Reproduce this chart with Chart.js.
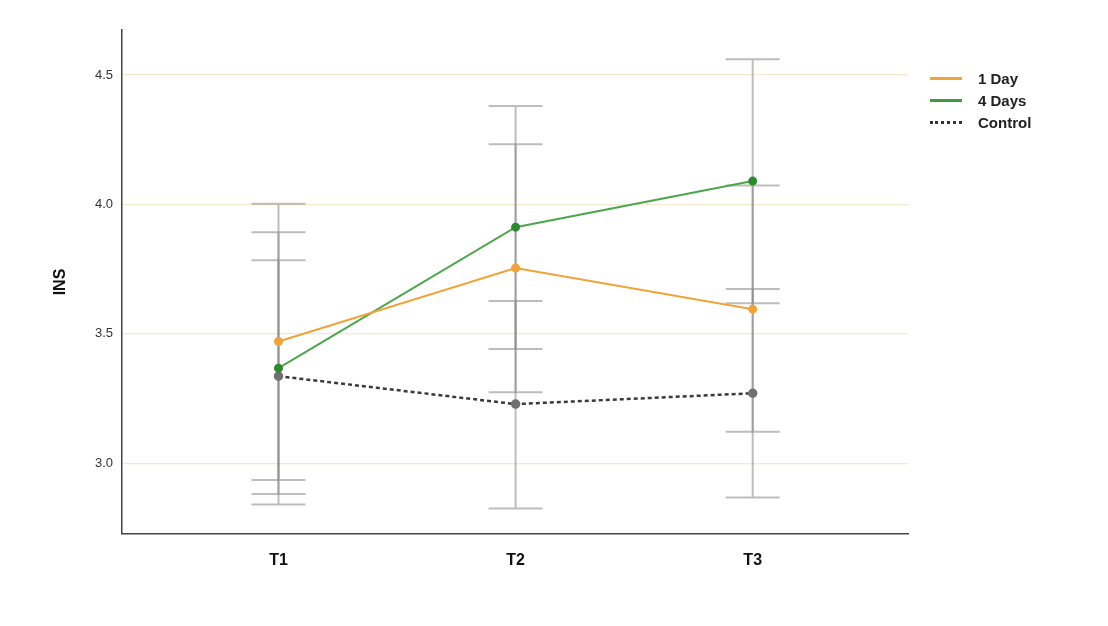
<!DOCTYPE html>
<html>
<head>
<meta charset="utf-8">
<script src="https://cdn.jsdelivr.net/npm/chart.js@4"></script>
<style>
  body { margin: 0; background: #fff; }
  #wrap { position: relative; width: 1108px; height: 626px; }
  #legend { position: absolute; left: 930px; top: 67px; font-family: "Liberation Sans", Arial, sans-serif; font-size: 15px; font-weight: bold; color: #222; }
  #legend div { height: 22px; display: flex; align-items: center; }
  #legend span.sw { display: inline-block; width: 32px; margin-right: 16px; }
</style>
</head>
<body>
<div id="wrap">
  <canvas id="grafico" width="1108" height="626"></canvas>
  <div id="legend">
    <div><span class="sw" style="border-top:3px solid #f0a33a"></span>1 Day</div>
    <div><span class="sw" style="border-top:3px solid #3f9a3f"></span>4 Days</div>
    <div><span class="sw" style="border-top:3px dotted #333"></span>Control</div>
  </div>
</div>
<script>
// Datos
const categorias = ['T1', 'T2', 'T3'];
const ticksY = [3.0, 3.5, 4.0, 4.5];

const unDia = [3.47, 3.754, 3.595];
const unDiaInf = [2.935, 3.274, 3.121];
const unDiaSup = [4.002, 4.232, 4.073];

const cuatroDias = [3.367, 3.912, 4.09];
const cuatroDiasInf = [2.840, 3.441, 3.618];
const cuatroDiasSup = [3.892, 4.380, 4.561];

const control = [3.336, 3.228, 3.27];
const controlInf = [2.881, 2.825, 2.867];
const controlSup = [3.784, 3.627, 3.673];

const aPuntos = arr => arr.map((v, i) => ({ x: i + 1, y: v }));

// Barras de error dibujadas con las escalas del gráfico
const barrasError = {
    id: 'barrasError',
    beforeDatasetsDraw(chart) {
        const ctx = chart.ctx;
        const xs = chart.scales.x, ys = chart.scales.y;
        const grupos = [[unDiaInf, unDiaSup], [cuatroDiasInf, cuatroDiasSup], [controlInf, controlSup]];
        ctx.save();
        ctx.strokeStyle = 'rgba(135, 135, 135, 0.55)';
        ctx.lineWidth = 2;
        grupos.forEach(([inf, sup]) => {
            inf.forEach((lo, i) => {
                const x = xs.getPixelForValue(i + 1);
                const y1 = ys.getPixelForValue(lo);
                const y2 = ys.getPixelForValue(sup[i]);
                ctx.beginPath();
                ctx.moveTo(x, y1); ctx.lineTo(x, y2);
                ctx.moveTo(x - 27, y1); ctx.lineTo(x + 27, y1);
                ctx.moveTo(x - 27, y2); ctx.lineTo(x + 27, y2);
                ctx.stroke();
            });
        });
        ctx.restore();
    }
};

const ctx = document.getElementById('grafico').getContext('2d');
const chart = new Chart(ctx, {
    type: 'line',
    data: {
        datasets: [{
            label: '1 Day',
            data: aPuntos(unDia),
            borderColor: '#f0a33a',
            backgroundColor: '#f0a33a',
            borderWidth: 2,
            pointRadius: 3.5,
            tension: 0
        }, {
            label: '4 Days',
            data: aPuntos(cuatroDias),
            borderColor: '#4ea54e',
            backgroundColor: '#2f8a2f',
            pointBorderColor: '#2f8a2f',
            borderWidth: 2,
            pointRadius: 3.5,
            tension: 0
        }, {
            label: 'Control',
            data: aPuntos(control),
            borderColor: '#3a3a3a',
            backgroundColor: '#707070',
            pointBorderColor: '#707070',
            borderWidth: 2.5,
            borderDash: [4, 3],
            pointRadius: 3.5,
            tension: 0
        }]
    },
    options: {
        responsive: false,
        animation: false,
        layout: { padding: { left: 0, right: 200, top: 30, bottom: 42 } },
        plugins: {
            legend: { display: false },
            tooltip: { enabled: false }
        },
        scales: {
            x: {
                type: 'linear',
                min: 0.34,
                max: 3.655,
                afterBuildTicks: s => { s.ticks = categorias.map((c, i) => ({ value: i + 1 })); },
                afterFit: s => { s.height = 50; },
                ticks: {
                    callback: v => categorias[v - 1],
                    color: '#111',
                    padding: 17,
                    font: { family: 'Liberation Sans, Arial', size: 16, weight: 'bold' }
                },
                grid: { display: false, drawTicks: false },
                border: { color: '#444', width: 1.5 }
            },
            y: {
                min: 2.726,
                max: 4.674,
                afterBuildTicks: s => { s.ticks = ticksY.map(v => ({ value: v })); },
                afterFit: s => { s.width = 122; },
                ticks: {
                    callback: v => v.toFixed(1),
                    color: '#333',
                    padding: 9,
                    font: { family: 'Liberation Sans, Arial', size: 13 }
                },
                grid: { color: '#f3e8d0', drawTicks: false, lineWidth: 1.2 },
                border: { color: '#444', width: 1.5 },
                title: {
                    display: true,
                    text: 'INS',
                    color: '#111',
                    padding: { top: 51, bottom: 0 },
                    font: { family: 'Liberation Sans, Arial', size: 16, weight: 'bold' }
                }
            }
        }
    },
    plugins: [barrasError]
});
</script>
</body>
</html>
